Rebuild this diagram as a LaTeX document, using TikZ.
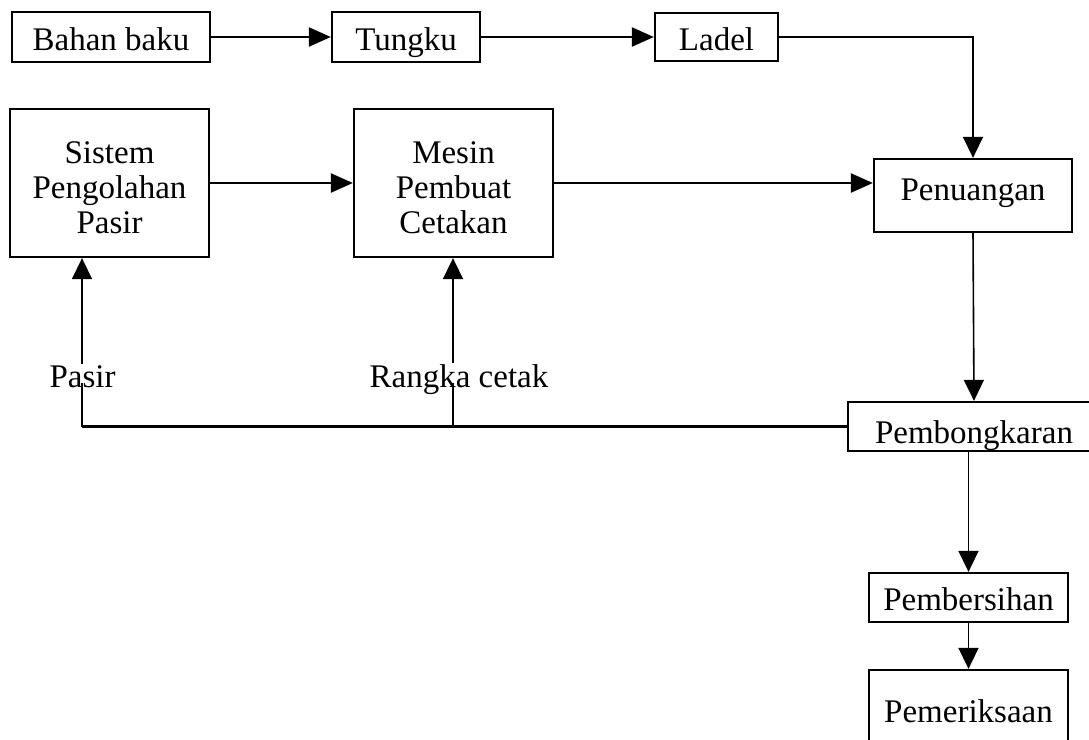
\documentclass[tikz,border=0pt]{standalone}
\usepackage{fontspec}
\setmainfont{Liberation Serif}
\usetikzlibrary{arrows.meta}
\begin{document}
\begin{tikzpicture}[x=1pt,y=-1pt,
  box/.style={draw, line width=2.3pt, inner sep=0pt, align=center,
    font=\fontsize{33}{35}\selectfont},
  tx/.style 2 args={text height=#1pt, text depth=#2pt},
  flow/.style={line width=2.3pt, -{Triangle[length=22pt,width=19pt]}},
  vflow/.style={line width=1.6pt, -{Triangle[length=21pt,width=20pt]}},
  ret/.style={line width=2.3pt},
  lbl/.style={fill=white, inner sep=1pt, font=\fontsize{33}{35}\selectfont}]
\clip (0,0) rectangle (1089,739);
\fill[white] (0,0) rectangle (1089,739);

% top row
\node[box, tx={29}{3}, minimum width=198pt, minimum height=50pt] (bahan) at (111,37) {Bahan baku};
\node[box, tx={29}{3}, minimum width=148pt, minimum height=50pt] (tungku) at (406,37) {Tungku};
\node[box, tx={29}{3}, minimum width=123pt, minimum height=48pt] (ladel) at (716.5,37) {Ladel};

% moulding line
\node[box, minimum width=199pt, minimum height=148pt] (sistem) at (109.5,183)
  {\rule{0pt}{31pt}Sistem\\Pengolahan\\Pasir};
\node[box, minimum width=199pt, minimum height=148pt] (mesin) at (453.5,183)
  {\rule{0pt}{31pt}Mesin\\Pembuat\\Cetakan};

% right-hand column
\node[box, tx={20.5}{11.5}, minimum width=198pt, minimum height=73pt] (tuang) at (973,195.5) {Penuangan};
\node[box, tx={33}{0}, minimum width=252pt, minimum height=49pt] (bongkar) at (974,426.5) {Pembongkaran};
\node[box, tx={28.5}{3.5}, minimum width=199pt, minimum height=49pt] (bersih) at (968.5,597.5) {Pembersihan};
\node[box, tx={26}{6}, minimum width=199pt, minimum height=84pt] (periksa) at (968.5,712) {Pemeriksaan};

% forward flow
\draw[flow] (bahan.east) -- (tungku.west);
\draw[flow] (tungku.east) -- (ladel.west);
\draw[vflow] (ladel.east) -| (tuang.north);
\draw[flow] (sistem.east) -- (mesin.west);
\draw[flow] (mesin.east) -- (mesin.east -| tuang.west);
\draw[vflow] (tuang.south) -- (bongkar.north);
\draw[vflow] (bersih.north |- bongkar.south) -- (bersih.north);
\draw[vflow] (bersih.south) -- (periksa.north);

% return of sand and flasks
\coordinate (fbpasir) at (82,426.5);
\coordinate (fbrangka) at (453,426.5);
\draw[ret] (bongkar.west) -- (fbpasir);
\draw[vflow] (fbpasir) -- (fbpasir |- sistem.south);
\draw[vflow] (fbrangka) -- (fbrangka |- mesin.south);
\node[lbl, anchor=base] (pasir) at (82.5,387) {Pasir};
\node[lbl, anchor=base] (rangka) at (459,387) {Rangka cetak};
\draw[vflow, -] (fbpasir) -- ++(0,-44);
\draw[vflow, -] (fbrangka) -- ++(0,-44);
\end{tikzpicture}
\end{document}
